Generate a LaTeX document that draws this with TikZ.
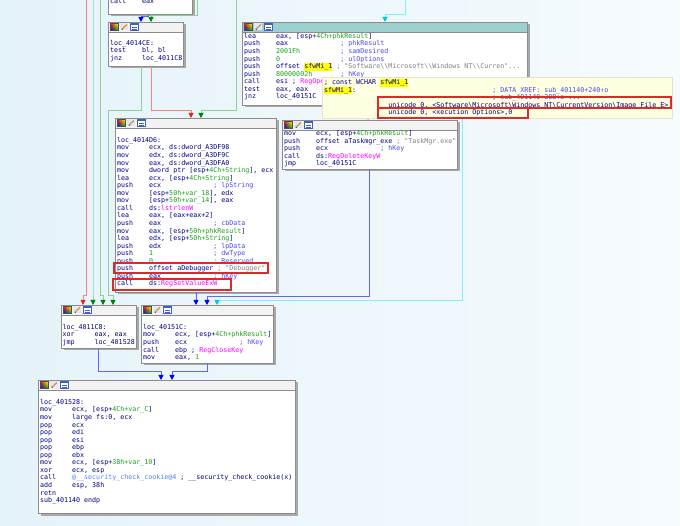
\documentclass[tikz,border=0pt]{standalone}
\usepackage{fontspec}
\usetikzlibrary{arrows.meta,shadows,shadings}
\newfontfamily\monofont{DejaVu Sans Mono}

\definecolor{idabgl}{HTML}{E5F3FA}
\definecolor{idabgr}{HTML}{F6FBFE}
\definecolor{idanavy}{HTML}{000080}
\definecolor{idacmt}{HTML}{4848F0}
\definecolor{idavar}{HTML}{18A018}
\definecolor{idaimp}{HTML}{FF00FF}
\definecolor{idastr}{HTML}{808080}
\definecolor{idafn}{HTML}{5080FF}
\definecolor{idahl}{HTML}{FFFF00}
\definecolor{idaborder}{HTML}{8C8C8C}
\definecolor{idashadow}{HTML}{A8A8A8}
\definecolor{idahead}{HTML}{F2F2F2}
\definecolor{idasel}{HTML}{9ECFCF}
\definecolor{idatip}{HTML}{FFFFE1}
\definecolor{idatipb}{HTML}{E4E4C8}
\definecolor{idared}{HTML}{E02828}
\definecolor{idagreen}{HTML}{008000}
\definecolor{idagreenl}{HTML}{90D090}
\definecolor{idaredl}{HTML}{FF8080}
\definecolor{idablue}{HTML}{0000FF}
\definecolor{idabluel}{HTML}{6464FF}
\definecolor{idacyan}{HTML}{00C8D8}
\definecolor{idacyanl}{HTML}{80F0F8}
\definecolor{idapen}{HTML}{D0A020}
\definecolor{idawin}{HTML}{4060C0}

% character width of the listing font
\newlength\asmcw
\AtBeginDocument{\settowidth\asmcw{\monofont\fontsize{6.65pt}{7.55pt}\selectfont 0}}
\newcommand\asmop[1]{\makebox[8\asmcw][l]{#1}}
\newcommand\asmpad[1]{\makebox[16\asmcw][l]{#1}}
\newcommand\asmcol[2]{\makebox[#1\asmcw][l]{#2}}
\newcommand\asmcmt[1]{\textcolor{idacmt}{#1}}
\newcommand\asmvar[1]{\textcolor{idavar}{#1}}
\newcommand\asmimp[1]{\textcolor{idaimp}{#1}}
\newcommand\asmstr[1]{\textcolor{idastr}{#1}}
\newcommand\asmfn[1]{\textcolor{idafn}{#1}}
\newcommand\asmhl[1]{{\fboxsep=0pt\colorbox{idahl}{\strut#1}}}
\newcommand\bsl{\textbackslash}

\tikzstyle{block}=[draw=idaborder, fill=white, line width=0.6pt,
	anchor=north west, inner sep=0pt, outer sep=0pt,
	general shadow={fill=idashadow, shadow xshift=2.5pt, shadow yshift=-2.5pt}]
\tikzstyle{tip}=[draw=idatipb, fill=idatip, line width=0.5pt,
	anchor=north west, inner sep=0pt, outer sep=0pt]
\tikzstyle{code}=[anchor=north west, inner sep=0pt, align=left, text=idanavy,
	font=\monofont\fontsize{6.65pt}{7.55pt}\selectfont]
\tikzstyle{header}=[draw=idaborder, line width=0.6pt]
\tikzstyle{redbox}=[draw=idared, line width=1.1pt]
\tikzstyle{gedge}=[draw=idagreenl, line width=0.9pt, -{Triangle[width=5pt,length=5pt,color=idagreen]}]
\tikzstyle{redge}=[draw=idaredl, line width=0.9pt, -{Triangle[width=5pt,length=5pt,color=idared]}]
\tikzstyle{bedge}=[draw=idabluel, line width=0.9pt, -{Triangle[width=5pt,length=5pt,color=idablue]}]
\tikzstyle{cedge}=[draw=idacyanl, line width=0.9pt, -{Triangle[width=5pt,length=5pt,color=idacyan]}]

\begin{document}
\begin{tikzpicture}[x=1pt, y=-1pt]

	% Background, frame
	\useasboundingbox (0,0) rectangle (680,526);
	\clip (0,0) rectangle (680,526);
	\shade[left color=idabgl, right color=idabgr] (0,0) rectangle (680,526);

	% % Blocks
	\node[block, minimum width=84pt, minimum height=44pt] (A) at (108,-30) {};
	\node[block, minimum width=75pt, minimum height=44pt] (B) at (108,22) {};
	\node[block, minimum width=285pt, minimum height=83pt] (C) at (242,22) {};
	\node[block, minimum width=175pt, minimum height=49pt] (D) at (282,120) {};
	\node[block, minimum width=161pt, minimum height=174pt] (E) at (115,118) {};
	\node[block, minimum width=75pt, minimum height=43pt] (F) at (61,305) {};
	\node[block, minimum width=132pt, minimum height=58pt] (G) at (141,305) {};
	\node[block, minimum width=257pt, minimum height=133pt] (H) at (38,380) {};

	% % Headers, icons
	\foreach \b/\c in {B/idahead, C/idasel, D/idahead, E/idahead, F/idahead, G/idahead, H/idahead} {
		\filldraw[header, fill=\c] (\b.north west) rectangle ([yshift=-10pt]\b.north east);
		\begin{scope}[shift={(\b.north west)}]
			\shade[upper left=red, upper right=yellow, lower left=blue, lower right=green!70!black]
				(2,1.5) rectangle (10,8.5);
			\draw[black!70, line width=0.4pt] (2,1.5) rectangle (10,8.5);
			\fill[blue!10] (12,1.5) rectangle (20,8.5);
			\draw[idapen, line width=1.3pt] (13.5,7.5) -- (19,2.5);
			\draw[idawin, line width=0.6pt] (15,7.5) -- (13.5,7.5);
			\filldraw[fill=white, draw=idawin, line width=0.5pt] (22,1.5) rectangle (30,8.5);
			\fill[idawin] (22,1.5) rectangle (30,3);
			\draw[idawin, line width=0.4pt] (23.5,5) -- (28.5,5) (23.5,7) -- (28.5,7);
		\end{scope}
	}

	% % Listings
	\node[code] (Atxt) at (110,-2.1) {\strut\asmop{call}eax};
	\node[code] (Btxt) at (110,32.4) {\strut\\
		loc\_4014CE:\\
		\asmop{test}bl, bl\\
		\asmop{jnz}loc\_4011C8};
	\node[code] (Ctxt) at (244,32.9) {\strut\asmop{lea}eax, [esp+\asmvar{4Ch+phkResult}]\\
		\asmop{push}\asmpad{eax}\asmcmt{; phkResult}\\
		\asmop{push}\asmpad{\asmvar{2001Fh}}\asmcmt{; samDesired}\\
		\asmop{push}\asmpad{\asmvar{0}}\asmcmt{; ulOptions}\\
		\asmop{push}offset \asmhl{sfwMi\_1} \asmstr{; "Software\bsl\bsl Microsoft\bsl\bsl Windows NT\bsl\bsl Curren"...}\\
		\asmop{push}\asmpad{\asmvar{80000002h}}\asmcmt{; hKey}\\
		\asmop{call}esi ; \asmimp{RegOpe}\\
		\asmop{test}eax, eax\\
		\asmop{jnz}loc\_40151C};
	\node[code] (Dtxt) at (284,130) {\strut\asmop{mov}ecx, [esp+\asmvar{4Ch+phkResult}]\\
		\asmop{push}offset aTaskmgr\_exe \asmstr{; "TaskMgr.exe"}\\
		\asmop{push}\asmpad{ecx}\asmcmt{; hKey}\\
		\asmop{call}ds:\asmimp{RegDeleteKeyW}\\
		\asmop{jmp}loc\_40151C};
	\node[code] (Etxt) at (117,129.4) {\strut\\
		loc\_4014D6:\\
		\asmop{mov}ecx, ds:dword\_A3DF98\\
		\asmop{mov}edx, ds:dword\_A3DF9C\\
		\asmop{mov}eax, ds:dword\_A3DFA0\\
		\asmop{mov}dword ptr [esp+\asmvar{4Ch+String}], ecx\\
		\asmop{lea}ecx, [esp+\asmvar{4Ch+String}]\\
		\asmop{push}\asmpad{ecx}\asmcmt{; lpString}\\
		\asmop{mov}[esp+\asmvar{50h+var\_18}], edx\\
		\asmop{mov}[esp+\asmvar{50h+var\_14}], eax\\
		\asmop{call}ds:\asmimp{lstrlenW}\\
		\asmop{lea}eax, [eax+eax+2]\\
		\asmop{push}\asmpad{eax}\asmcmt{; cbData}\\
		\asmop{mov}eax, [esp+\asmvar{50h+phkResult}]\\
		\asmop{lea}edx, [esp+\asmvar{50h+String}]\\
		\asmop{push}\asmpad{edx}\asmcmt{; lpData}\\
		\asmop{push}\asmpad{\asmvar{1}}\asmcmt{; dwType}\\
		\asmop{push}\asmpad{\asmvar{0}}\asmcmt{; Reserved}\\
		\asmop{push}offset aDebugger \asmstr{; "Debugger"}\\
		\asmop{push}\asmpad{eax}\asmcmt{; hKey}\\
		\asmop{call}ds:\asmimp{RegSetValueExW}};
	\node[code] (Ftxt) at (62.5,316.4) {\strut\\
		loc\_4011C8:\\
		\asmop{xor}eax, eax\\
		\asmop{jmp}loc\_401528};
	\node[code] (Gtxt) at (143,316.4) {\strut\\
		loc\_40151C:\\
		\asmop{mov}ecx, [esp+\asmvar{4Ch+phkResult}]\\
		\asmop{push}\asmpad{ecx}\asmcmt{; hKey}\\
		\asmop{call}ebp ; \asmimp{RegCloseKey}\\
		\asmop{mov}eax, \asmvar{1}};
	\node[code] (Htxt) at (40,391.4) {\strut\\
		loc\_401528:\\
		\asmop{mov}ecx, [esp+\asmvar{4Ch+var\_C}]\\
		\asmop{mov}large fs:0, ecx\\
		\asmop{pop}ecx\\
		\asmop{pop}edi\\
		\asmop{pop}esi\\
		\asmop{pop}ebp\\
		\asmop{pop}ebx\\
		\asmop{mov}ecx, [esp+\asmvar{38h+var\_10}]\\
		\asmop{xor}ecx, esp\\
		\asmop{call}\asmfn{@\_\_security\_check\_cookie@4} ; \_\_security\_check\_cookie(x)\\
		\asmop{add}esp, 38h\\
		\asmop{retn}\\
		sub\_401140 endp};

	% % Marked lines
	\draw[redbox] (114,263) rectangle (268,273);
	\draw[redbox] (113,279) rectangle (231,290);

	% % Edges
	\draw[bedge] ([xshift=40pt]A.south west) -- ++(0,2) -| ([xshift=33pt]B.north west);
	\coordinate (inB) at (197,0);
	\draw[gedge] (inB) |- ([xshift=43pt,yshift=7pt]B.north west) -- ([xshift=43pt]B.north west);
	\draw[redge] ([xshift=43pt]B.south west) |- ([xshift=76pt,yshift=8pt]E.north west) -- ([xshift=76pt]E.north west);
	\draw[gedge] ([xshift=33pt]B.south west) |- (108,110) -- (108,295) -| ([xshift=52pt]F.north west);
	\coordinate (inE) at (236,0);
	\draw[gedge] (inE) |- ([xshift=86pt,yshift=8pt]E.north west) -- ([xshift=86pt]E.north west);
	\foreach \x/\s/\e in {86/22/redge, 93/32/gedge, 100/42/gedge} {
		\coordinate (in\x) at (\x,0);
		\draw[\e] (in\x) -- (\x,295) -| ([xshift=\s pt]F.north west);
	}
	\coordinate (inC) at (405,0);
	\draw[cedge] (inC) |- ([xshift=143pt,yshift=8pt]C.north west) -- ([xshift=143pt]C.north west);
	\draw[redge] ([xshift=126pt]C.south west) -- ([xshift=86pt]D.north west);
	\draw[cedge] ([xshift=220pt]C.south west) |- ([xshift=76pt,yshift=5pt]G.north west) -- ([xshift=76pt]G.north west);
	\draw[bedge] ([xshift=81pt]E.south west) -- ([xshift=55pt]G.north west);
	\draw[bedge] ([xshift=87pt]D.south west) |- ([xshift=66pt,yshift=9pt]G.north west) -- ([xshift=66pt]G.north west);
	\draw[bedge] ([xshift=37pt]F.south west) |- ([xshift=123pt,yshift=9pt]H.north west) -- ([xshift=123pt]H.north west);
	\draw[bedge] ([xshift=66pt]G.south west) |- ([xshift=134pt,yshift=9pt]H.north west) -- ([xshift=134pt]H.north west);

	% % Hint window
	\node[tip, minimum width=350pt, minimum height=41pt] (T) at (322,77) {};
	\node[code] (Ttxt) at (324,79) {\strut; const WCHAR \asmhl{sfwMi\_1}\\
		\asmcol{42}{\asmhl{sfwMi\_1}:}\asmcmt{; DATA XREF: sub\_401140+240↑o}\\
		\asmcol{42}{}\asmcmt{; sub\_401140+28B↑o ...}\\
		\asmcol{16}{}unicode 0, <Software\bsl Microsoft\bsl Windows NT\bsl CurrentVersion\bsl Image File E>\\
		\asmcol{16}{}unicode 0, <xecution Options>,0};
	\draw[redbox] (378,97) rectangle (671,108);
	\draw[redbox] (378,108) rectangle (528,118);

\end{tikzpicture}
\end{document}
